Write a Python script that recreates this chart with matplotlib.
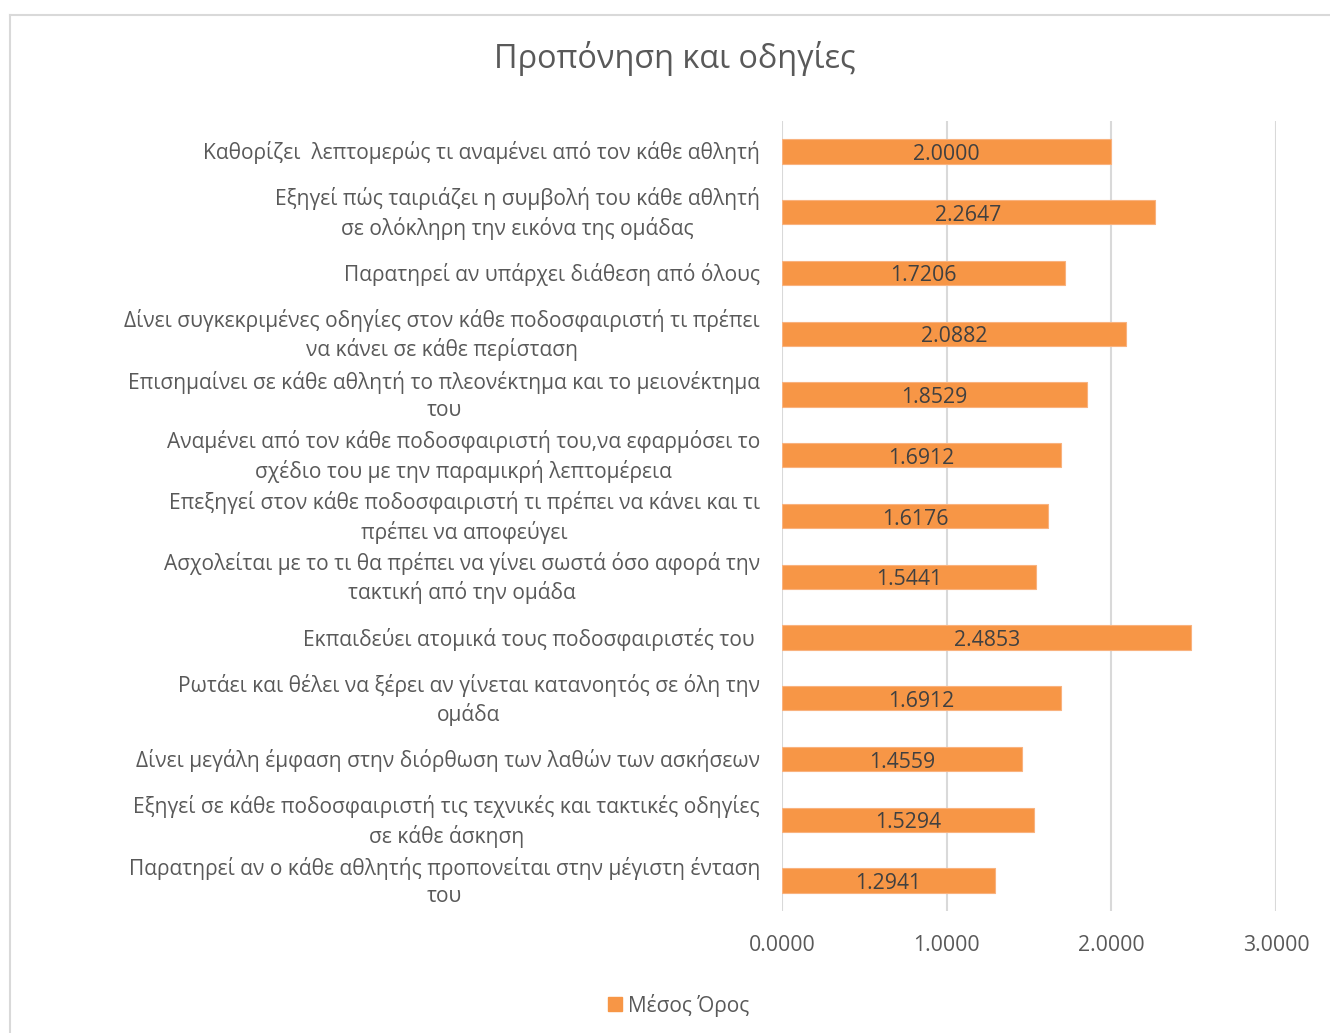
import matplotlib.pyplot as plt
from matplotlib.lines import Line2D
from matplotlib.patches import Patch
from matplotlib.transforms import offset_copy

plt.rcParams['font.family'] = ['Open Sans', 'DejaVu Sans']

labels = [
    'Καθορίζει  λεπτομερώς τι αναμένει από τον κάθε αθλητή',
    'Εξηγεί πώς ταιριάζει η συμβολή του κάθε αθλητή\nσε ολόκληρη την εικόνα της ομάδας',
    'Παρατηρεί αν υπάρχει διάθεση από όλους',
    'Δίνει συγκεκριμένες οδηγίες στον κάθε ποδοσφαιριστή τι πρέπει\nνα κάνει σε κάθε περίσταση',
    'Επισημαίνει σε κάθε αθλητή το πλεονέκτημα και το μειονέκτημα\nτου',
    'Αναμένει από τον κάθε ποδοσφαιριστή του,να εφαρμόσει το\nσχέδιο του με την παραμικρή λεπτομέρεια',
    'Επεξηγεί στον κάθε ποδοσφαιριστή τι πρέπει να κάνει και τι\nπρέπει να αποφεύγει',
    'Ασχολείται με το τι θα πρέπει να γίνει σωστά όσο αφορά την\nτακτική από την ομάδα',
    'Εκπαιδεύει ατομικά τους ποδοσφαιριστές του ',
    'Ρωτάει και θέλει να ξέρει αν γίνεται κατανοητός σε όλη την\nομάδα',
    'Δίνει μεγάλη έμφαση στην διόρθωση των λαθών των ασκήσεων',
    'Εξηγεί σε κάθε ποδοσφαιριστή τις τεχνικές και τακτικές οδηγίες\nσε κάθε άσκηση',
    'Παρατηρεί αν ο κάθε αθλητής προπονείται στην μέγιστη ένταση\nτου',
]
values = [2.0000, 2.2647, 1.7206, 2.0882, 1.8529, 1.6912, 1.6176,
          1.5441, 2.4853, 1.6912, 1.4559, 1.5294, 1.2941]
series_name = 'Μέσος Όρος'
xticks = [0, 1, 2, 3]

bar_color = '#F79646'
text_color = '#595959'
grid_color = '#D9D9D9'

fig = plt.figure(figsize=(13.3, 10.33), dpi=100)
ax = fig.add_axes([0.588, 0.1181, 0.3714, 0.7648])

ypos = list(range(len(values)))
ax.barh(ypos, values, height=0.4, color=bar_color,
        edgecolor='#F9B27E', linewidth=0.8, zorder=3)
for y, v in zip(ypos, values):
    ax.text(v / 2, y + 0.05, f'{v:.4f}', ha='center', va='center',
            fontsize=15.3, color='#404040', zorder=4)

ax.set_ylim(len(values) - 0.5, -0.5)
ax.set_xlim(0, 3)
ax.set_xticks(xticks)
ax.set_xticklabels([f'{t:.4f}' for t in xticks], fontsize=15.3, color=text_color)
ax.set_yticks(ypos)
ax.set_yticklabels([])
ax.tick_params(axis='y', length=0)
ax.tick_params(axis='x', length=0, pad=17)

# category labels: block right-aligned, lines centred
lab_tr = offset_copy(ax.get_yaxis_transform(), fig=fig, x=-22, y=-1.5, units='dots')
for y, lab in zip(ypos, labels):
    ax.text(0, y, lab, transform=lab_tr, ha='right', va='center',
            multialignment='center', fontsize=15.1, color=text_color,
            linespacing=1.36)

ax.grid(axis='x', color=grid_color, linewidth=1.5, zorder=0)
for s in ax.spines.values():
    s.set_visible(False)

fig.text(0.5075, 0.943, 'Προπόνηση και οδηγίες', ha='center', va='center',
         fontsize=23.3, color=text_color)

fig.legend(handles=[Patch(color=bar_color, label=series_name)],
           loc='center', bbox_to_anchor=(0.5105, 0.027), frameon=False,
           fontsize=15, labelcolor=text_color, handlelength=0.65,
           handleheight=0.65, handletextpad=0.3)

# chart area border (left and top edges visible)
fig.add_artist(Line2D([0.0075, 0.0075], [0, 0.9855], color=grid_color,
                      linewidth=1.5, transform=fig.transFigure))
fig.add_artist(Line2D([0.0075, 1], [0.9855, 0.9855], color=grid_color,
                      linewidth=1.5, transform=fig.transFigure))

fig.savefig('out.png', dpi=100, facecolor='white')
